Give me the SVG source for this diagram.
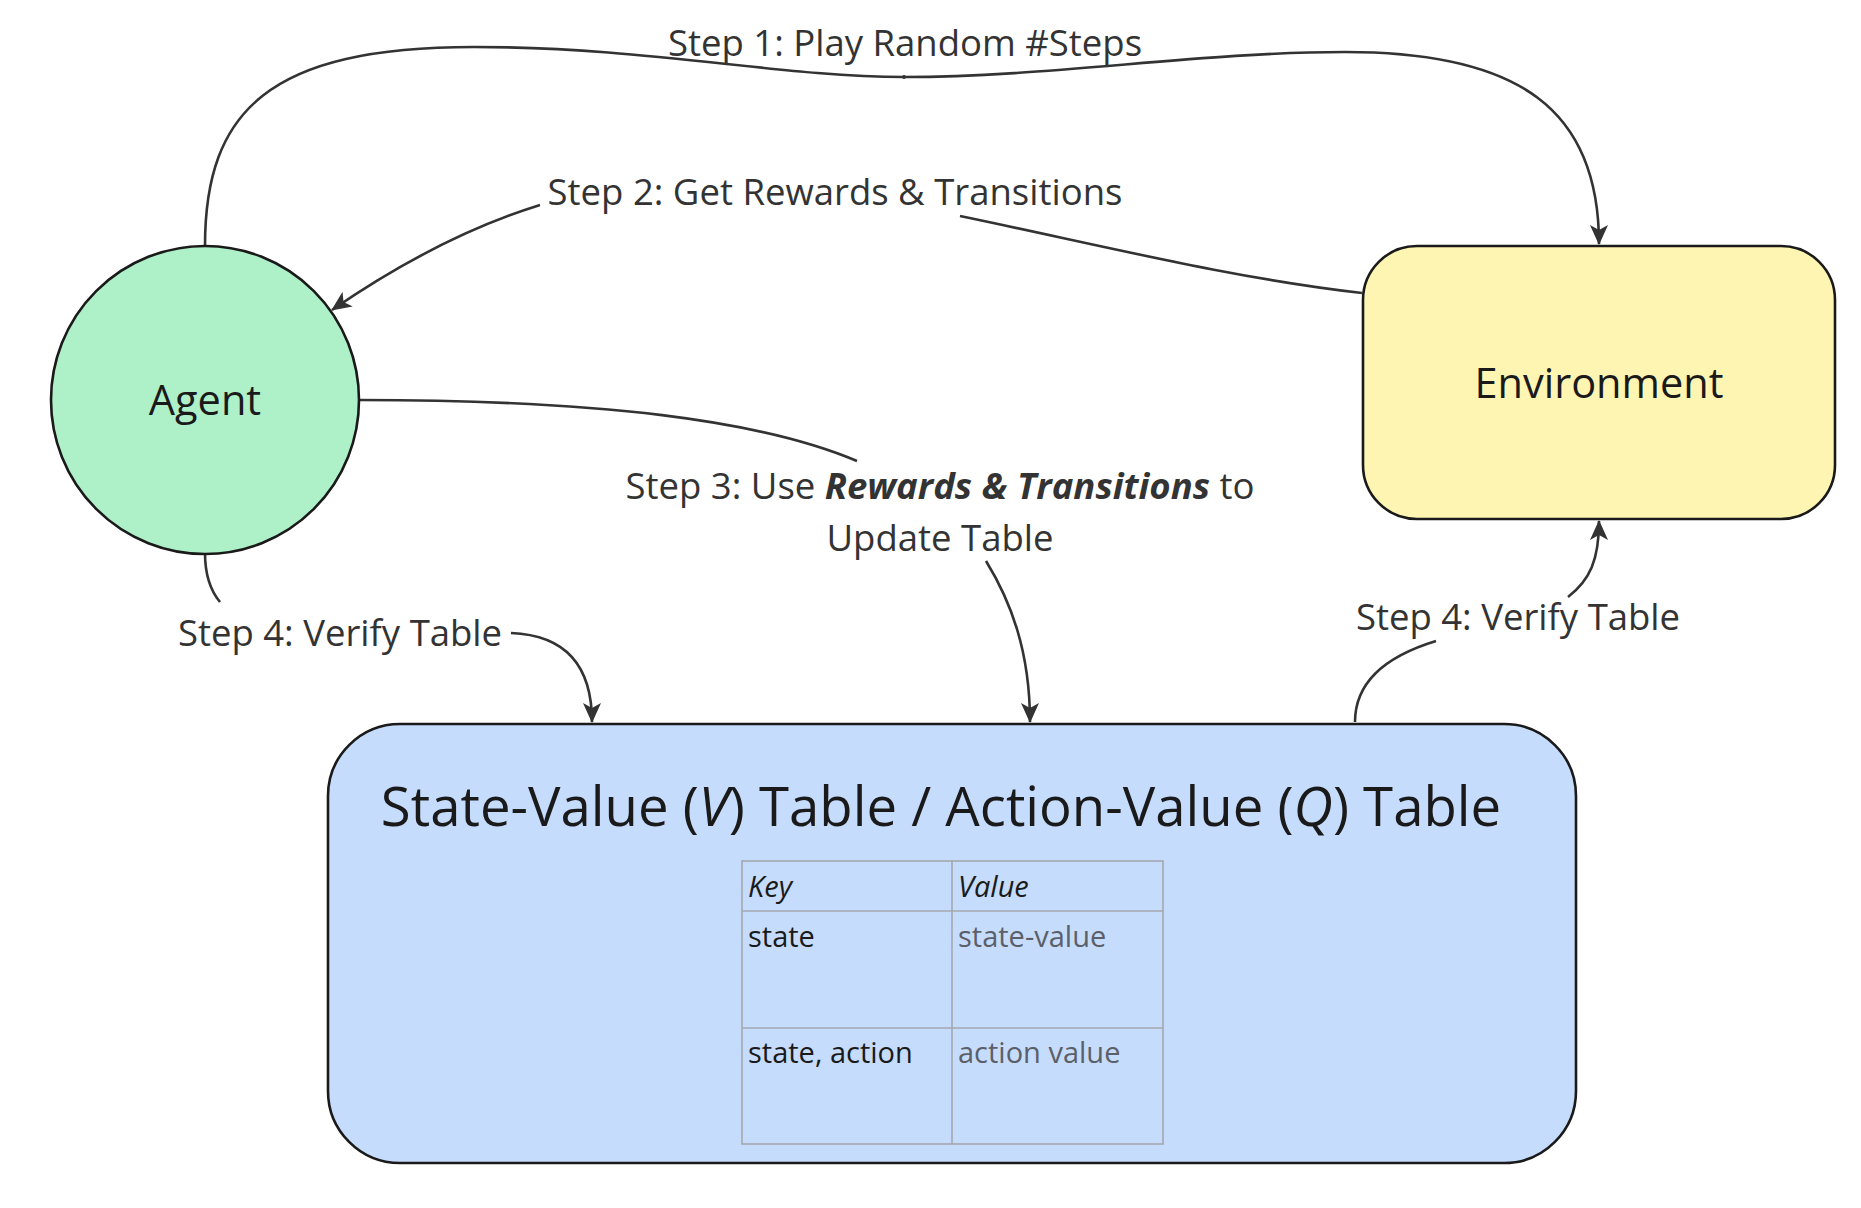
<svg xmlns="http://www.w3.org/2000/svg" width="1861" height="1208" viewBox="0 0 1861 1208">
<defs>
<marker id="arr" markerUnits="userSpaceOnUse" markerWidth="20" markerHeight="18" viewBox="0 0 20 18" refX="19" refY="9" orient="auto">
<path d="M0,0 L20,9 L0,18 L5,9 Z" fill="#333333"/>
</marker>
<style>
.edge{fill:none;stroke:#333333;stroke-width:2.6}
.lbl{font-family:"Open Sans","Noto Sans",sans-serif;font-size:36.5px;fill:#333333;text-anchor:middle}
.node{stroke:#1a1a1a;stroke-width:2.6}
.ntxt{font-family:"Open Sans","Noto Sans",sans-serif;font-size:41.5px;fill:#1a1a1a;text-anchor:middle}
.title{font-family:"Open Sans","Noto Sans",sans-serif;font-size:54.5px;fill:#1a1a1a;text-anchor:middle}
.cell{font-family:"Open Sans","Noto Sans",sans-serif;font-size:29px;fill:#1a1a1a}
.cellv{font-family:"Open Sans","Noto Sans",sans-serif;font-size:29px;fill:#5b6068}
.grid{stroke:#a3a8ad;stroke-width:1.6;fill:none}
</style>
</defs>
<rect width="1861" height="1208" fill="#ffffff"/>
<g id="connectors">
<path class="edge" d="M205,246 C205,110 270,47 474,47 C650,47 780,77 904,77 C1050,77 1200,52 1345,52 C1520,52 1599,110 1599,244" marker-end="url(#arr)"/>
<circle cx="904" cy="77" r="2" fill="#333333"/>
<path class="edge" d="M1362,293 C1230,278 1100,245 960,216"/>
<path class="edge" d="M540,205 C460,230 390,270 332,310" marker-end="url(#arr)"/>
<path class="edge" d="M359,400 C600,400 760,420 857,461"/>
<path class="edge" d="M986,561 C1010,600 1030,650 1030,722" marker-end="url(#arr)"/>
<path class="edge" d="M205,553 C205,575 210,590 220,602"/>
<path class="edge" d="M511,633 C560,635 592,660 592,722" marker-end="url(#arr)"/>
<path class="edge" d="M1355,722 C1355,680 1390,655 1436,641"/>
<path class="edge" d="M1568,597 C1590,580 1599,560 1599,521" marker-end="url(#arr)"/>
<text class="lbl" x="905" y="56">Step 1: Play Random #Steps</text>
<text class="lbl" x="835" y="205">Step 2: Get Rewards &amp; Transitions</text>
<text class="lbl" x="940" y="499">Step 3: Use <tspan font-weight="bold" font-style="italic">Rewards &amp; Transitions</tspan> to</text>
<text class="lbl" x="940" y="551">Update Table</text>
<text class="lbl" x="340" y="646">Step 4: Verify Table</text>
<text class="lbl" x="1518" y="630">Step 4: Verify Table</text>
</g>
<g id="agent">
<circle class="node" cx="205" cy="400" r="154" fill="#aef0c8"/>
<text class="ntxt" x="205" y="415">Agent</text>
</g>
<g id="environment">
<rect class="node" x="1363" y="246" width="472" height="273" rx="54" fill="#fff5b3"/>
<text class="ntxt" x="1599" y="398">Environment</text>
</g>
<g id="table">
<rect class="node" x="328" y="724" width="1248" height="439" rx="72" fill="#c6dcfd"/>
<text class="title" x="941" y="826">State-Value (<tspan font-style="italic">V</tspan>) Table / Action-Value (<tspan font-style="italic">Q</tspan>) Table</text>
<rect class="grid" x="742" y="861" width="421" height="283"/>
<line class="grid" x1="952" y1="861" x2="952" y2="1144"/>
<line class="grid" x1="742" y1="911" x2="1163" y2="911"/>
<line class="grid" x1="742" y1="1028" x2="1163" y2="1028"/>
<text class="cell" x="748" y="897" font-style="italic">Key</text>
<text class="cell" x="958" y="897" font-style="italic">Value</text>
<text class="cell" x="748" y="947">state</text>
<text class="cellv" x="958" y="947">state-value</text>
<text class="cell" x="748" y="1063">state, action</text>
<text class="cellv" x="958" y="1063">action value</text>
</g>
</svg>
